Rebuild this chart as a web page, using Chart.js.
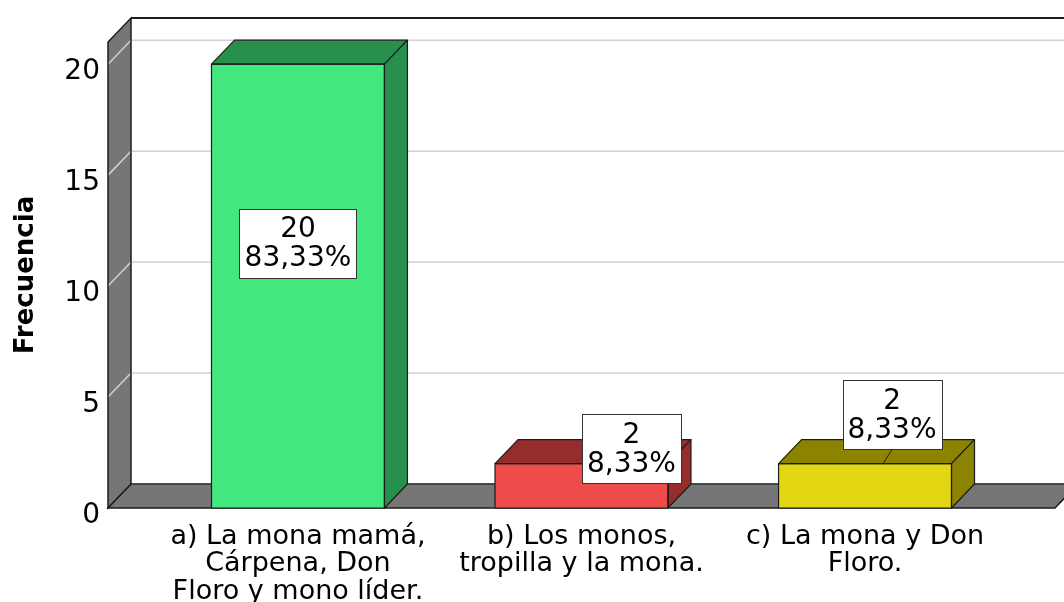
<!DOCTYPE html>
<html>
<head>
<meta charset="utf-8">
<script src="https://cdn.jsdelivr.net/npm/chart.js@4.4.0/dist/chart.umd.min.js"></script>
<style>
  html, body { margin: 0; padding: 0; background: #ffffff; }
  #wrap { width: 1064px; height: 602px; }
</style>
</head>
<body>
<div id="wrap"><canvas id="c" width="1064" height="602"></canvas></div>
<script>
// ---- data ----
const categories = [
  ['a) La mona mamá,', 'Cárpena, Don', 'Floro y mono líder.'],
  ['b) Los monos,', 'tropilla y la mona.'],
  ['c) La mona y Don', 'Floro.']
];
const frequencies = [20, 2, 2];
const yTicks = [0, 5, 10, 15, 20];
const yAxisTitle = 'Frecuencia';

// ---- styles ----
const frontColors = ['#42E87E', '#EE4B4B', '#E3D612'];
const shadeColors = ['#27904C', '#962D2D', '#8C8300'];
const DEPTH_X = 23, DEPTH_Y = 24;
const WALL_GRAY = '#767676';
const EDGE = '#1c1c1c';
// label box placement relative to the bar's front top corner centre
const labelPlacement = [
  { dx: 0, dy: 179 },
  { dx: 50, dy: -15 },
  { dx: 27, dy: -49, leader: 18 }
];

const depthPlugin = {
  id: 'depth3d',
  beforeDatasetsDraw(chart) {
    const { ctx, chartArea: { left, right, top, bottom }, scales: { y } } = chart;
    const dx = DEPTH_X, dy = DEPTH_Y;
    ctx.save();
    ctx.fillStyle = WALL_GRAY;
    ctx.beginPath();
    ctx.moveTo(left, bottom); ctx.lineTo(left, top);
    ctx.lineTo(left + dx, top - dy); ctx.lineTo(left + dx, bottom - dy);
    ctx.closePath(); ctx.fill();
    ctx.beginPath();
    ctx.moveTo(left, bottom); ctx.lineTo(right, bottom);
    ctx.lineTo(right + dx, bottom - dy); ctx.lineTo(left + dx, bottom - dy);
    ctx.closePath(); ctx.fill();
    ctx.strokeStyle = '#d2d2d2';
    ctx.lineWidth = 1.5;
    yTicks.forEach(v => {
      const yf = y.getPixelForValue(v);
      const yb = yf - dy;
      ctx.beginPath();
      ctx.moveTo(left, yf); ctx.lineTo(left + dx, yb); ctx.lineTo(right + dx, yb);
      ctx.stroke();
    });
    ctx.strokeStyle = EDGE;
    ctx.lineWidth = 1.5;
    ctx.beginPath();
    ctx.moveTo(left, bottom); ctx.lineTo(left, top);
    ctx.lineTo(left + dx, top - dy); ctx.lineTo(left + dx, bottom - dy);
    ctx.closePath(); ctx.stroke();
    ctx.beginPath();
    ctx.moveTo(left, bottom); ctx.lineTo(right, bottom);
    ctx.lineTo(right + dx, bottom - dy); ctx.lineTo(left + dx, bottom - dy);
    ctx.closePath(); ctx.stroke();
    ctx.lineWidth = 2;
    ctx.beginPath();
    ctx.moveTo(left + dx, top - dy); ctx.lineTo(right + dx, top - dy);
    ctx.stroke();
    ctx.restore();
  },
  afterDatasetsDraw(chart) {
    const { ctx } = chart;
    const dx = DEPTH_X, dy = DEPTH_Y;
    const meta = chart.getDatasetMeta(0);
    ctx.save();
    ctx.strokeStyle = EDGE;
    ctx.lineWidth = 1.2;
    ctx.lineJoin = 'round';
    meta.data.forEach((bar, i) => {
      const { x, y, base, width } = bar.getProps(['x', 'y', 'base', 'width'], true);
      const l = x - width / 2, r = x + width / 2;
      ctx.fillStyle = shadeColors[i];
      ctx.beginPath();
      ctx.moveTo(l, y); ctx.lineTo(r, y); ctx.lineTo(r + dx, y - dy); ctx.lineTo(l + dx, y - dy);
      ctx.closePath(); ctx.fill(); ctx.stroke();
      ctx.beginPath();
      ctx.moveTo(r, y); ctx.lineTo(r + dx, y - dy); ctx.lineTo(r + dx, base - dy); ctx.lineTo(r, base);
      ctx.closePath(); ctx.fill(); ctx.stroke();
      ctx.strokeRect(l, y, width, base - y);
    });
    ctx.restore();
  },
  afterDraw(chart) {
    const { ctx } = chart;
    const meta = chart.getDatasetMeta(0);
    const total = frequencies.reduce((a, b) => a + b, 0);
    ctx.save();
    ctx.font = '28px "DejaVu Sans"';
    meta.data.forEach((bar, i) => {
      const p = labelPlacement[i];
      const lines = [String(frequencies[i]),
        (frequencies[i] / total * 100).toFixed(2).replace('.', ',') + '%'];
      const w = Math.round(Math.max(...lines.map(t => ctx.measureText(t).width)) + 10);
      const h = 69;
      const cx = bar.x + p.dx, cy = bar.y + p.dy;
      const bx = Math.round(cx - w / 2) + 0.5, by = Math.round(cy - h / 2) + 0.5;
      if (p.leader !== undefined) {
        ctx.strokeStyle = EDGE; ctx.lineWidth = 1;
        ctx.beginPath();
        ctx.moveTo(cx, by + h); ctx.lineTo(bar.x + p.leader, bar.y);
        ctx.stroke();
      }
      ctx.fillStyle = '#ffffff';
      ctx.fillRect(bx, by, w, h);
      ctx.strokeStyle = '#333333'; ctx.lineWidth = 1;
      ctx.strokeRect(bx, by, w, h);
      ctx.fillStyle = '#000000';
      ctx.textAlign = 'center';
      ctx.textBaseline = 'middle';
      ctx.fillText(lines[0], cx, cy - 13);
      ctx.fillText(lines[1], cx, cy + 16);
    });
    ctx.restore();
  }
};

new Chart(document.getElementById('c'), {
  type: 'bar',
  data: {
    datasets: [{
      data: frequencies.map((v, i) => ({ x: i, y: v })),
      backgroundColor: frontColors,
      borderColor: EDGE,
      borderWidth: 0,
      barPercentage: 0.61,
      categoryPercentage: 1
    }]
  },
  options: {
    responsive: false,
    animation: false,
    devicePixelRatio: 1,
    layout: { padding: { top: 42, right: 9, left: 0, bottom: 0 } },
    plugins: { legend: { display: false }, tooltip: { enabled: false } },
    scales: {
      x: {
        type: 'linear',
        min: -0.67, max: 2.67,
        offset: false,
        grid: { display: false },
        border: { display: false },
        afterBuildTicks: s => { s.ticks = categories.map((_, i) => ({ value: i })); },
        afterFit: s => { s.height = 94; },
        ticks: {
          autoSkip: false, maxRotation: 0, minRotation: 0, padding: 7,
          color: '#000000',
          font: { family: 'DejaVu Sans', size: 27, lineHeight: 1.02 },
          callback: v => categories[v]
        }
      },
      y: {
        min: 0, max: 21,
        grid: { display: false },
        border: { display: false },
        afterBuildTicks: s => { s.ticks = yTicks.map(v => ({ value: v })); },
        afterFit: s => { s.width = 108; },
        ticks: {
          padding: 0, labelOffset: 8, color: '#000000',
          font: { family: 'DejaVu Sans', size: 28 }
        },
        title: {
          display: true, text: yAxisTitle, color: '#000000',
          font: { family: 'DejaVu Sans', size: 26, weight: 'bold' },
          padding: { top: 11, bottom: 0 }
        }
      }
    }
  },
  plugins: [depthPlugin]
});
</script>
</body>
</html>
